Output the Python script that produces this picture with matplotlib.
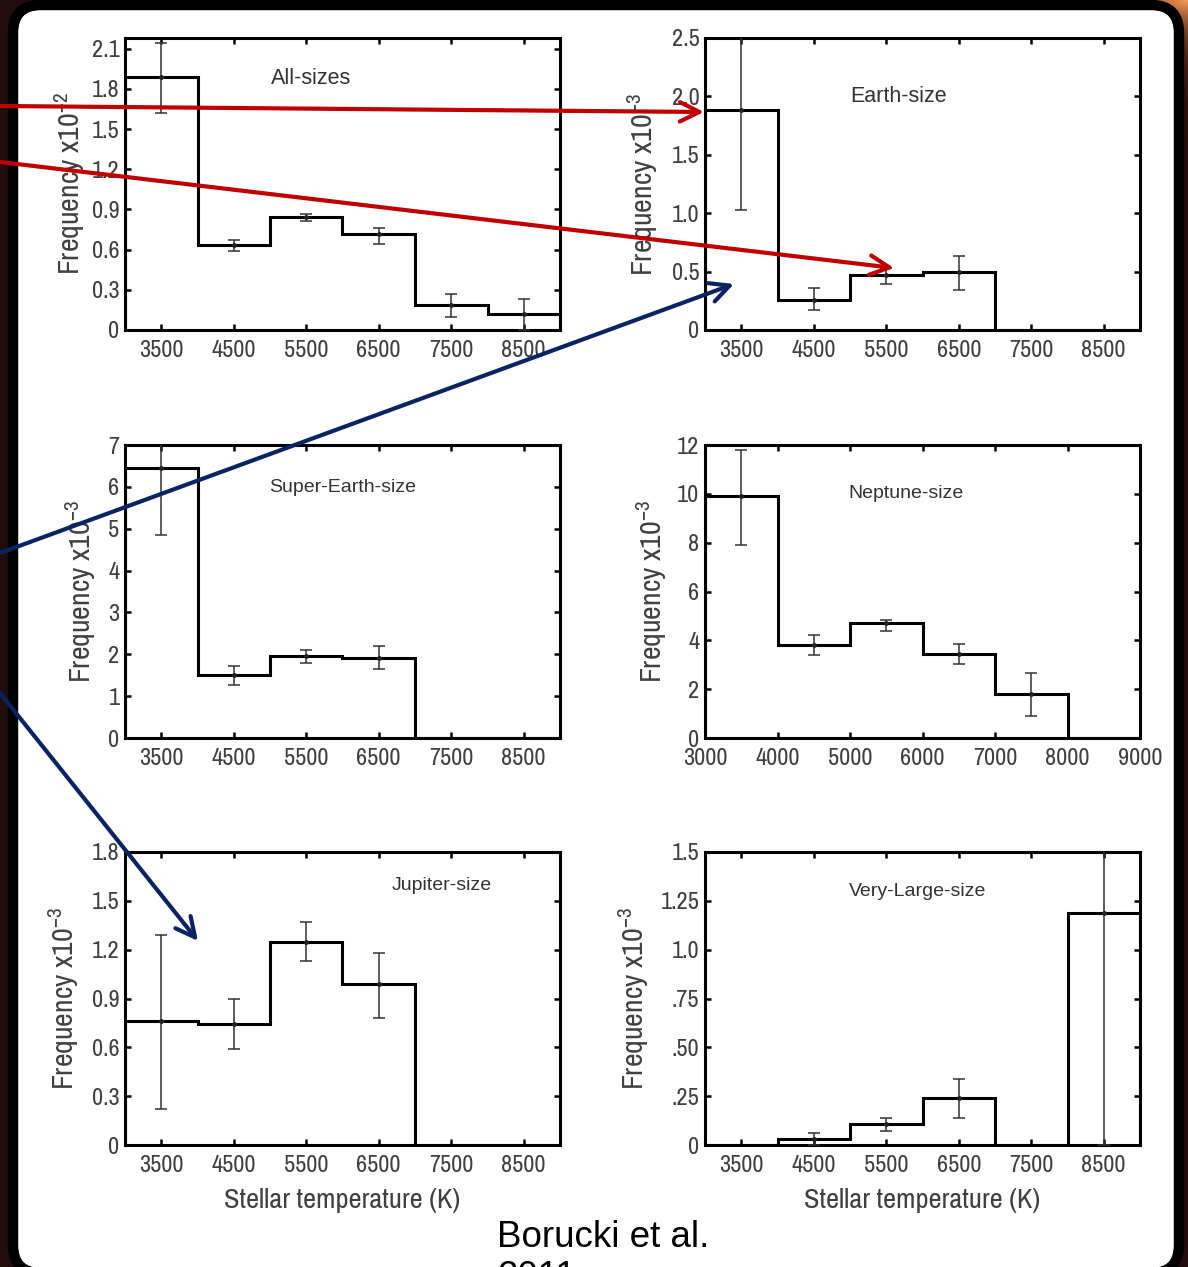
import numpy as np
import matplotlib.pyplot as plt
from matplotlib import font_manager
from matplotlib.patches import FancyBboxPatch

# pick a condensed sans for the axis text
avail = {f.name for f in font_manager.fontManager.ttflist}
narrow_opts = ['Liberation Sans Narrow', 'Arial Narrow', 'Archivo Narrow', 'PT Sans Narrow',
               'Roboto Condensed', 'Pragati Narrow', 'Open Sans Condensed', 'Liberation Sans']
narrow = next((n for n in narrow_opts if n in avail), 'DejaVu Sans')

plt.rcParams['font.family'] = [narrow, 'DejaVu Sans']
plt.rcParams['mathtext.fontset'] = 'custom'
plt.rcParams['mathtext.rm'] = narrow
plt.rcParams['mathtext.default'] = 'regular'

W, H = 1188, 1267
edges = np.arange(3000, 9001, 1000)
centers = edges[:-1] + 500

# frequency per 1000 K bin and error-bar bounds (nan = no bar)
nan = np.nan
all_freq = [1.89, 0.635, 0.84, 0.715, 0.19, 0.12]
all_lo = [1.62, 0.59, 0.815, 0.645, 0.10, 0.0]
all_hi = [2.14, 0.675, 0.865, 0.76, 0.27, 0.23]

earth_freq = [1.88, 0.26, 0.47, 0.50, 0, 0]
earth_lo = [1.03, 0.17, 0.39, 0.34, nan, nan]
earth_hi = [2.73, 0.36, 0.53, 0.63, nan, nan]

super_freq = [6.45, 1.50, 1.96, 1.92, 0, 0]
super_lo = [4.85, 1.26, 1.80, 1.64, nan, nan]
super_hi = [8.05, 1.72, 2.10, 2.20, nan, nan]

nep_freq = [9.9, 3.8, 4.7, 3.45, 1.8, 0]
nep_lo = [7.9, 3.4, 4.4, 3.05, 0.9, nan]
nep_hi = [11.8, 4.2, 4.85, 3.85, 2.65, nan]

jup_freq = [0.76, 0.745, 1.25, 0.99, 0, 0]
jup_lo = [0.22, 0.59, 1.13, 0.78, nan, nan]
jup_hi = [1.29, 0.90, 1.37, 1.18, nan, nan]

vl_freq = [0, 0.03, 0.105, 0.24, 0, 1.19]
vl_lo = [nan, 0.0, 0.07, 0.14, nan, 0.0]
vl_hi = [nan, 0.06, 0.14, 0.34, nan, 2.38]

std_xticks = [3500, 4500, 5500, 6500, 7500, 8500]
nep_xticks = [3000, 4000, 5000, 6000, 7000, 8000, 9000]

all_yticks = [0, 0.3, 0.6, 0.9, 1.2, 1.5, 1.8, 2.1]
all_ylabels = ['0', '0.3', '0.6', '0.9', '1.2', '1.5', '1.8', '2.1']
earth_yticks = [0, 0.5, 1.0, 1.5, 2.0, 2.5]
earth_ylabels = ['0', '0.5', '1.0', '1.5', '2.0', '2.5']
super_yticks = [0, 1, 2, 3, 4, 5, 6, 7]
nep_yticks = [0, 2, 4, 6, 8, 10, 12]
jup_yticks = [0, 0.3, 0.6, 0.9, 1.2, 1.5, 1.8]
jup_ylabels = ['0', '0.3', '0.6', '0.9', '1.2', '1.5', '1.8']
vl_yticks = [0, 0.25, 0.5, 0.75, 1.0, 1.25, 1.5]
vl_ylabels = ['0', '.25', '.50', '.75', '1.0', '1.25', '1.5']

# pixel boxes: left, top, right, bottom
panels = [
    dict(box=(125, 38, 560, 330), f=all_freq, lo=all_lo, hi=all_hi, ylim=2.18,
         yt=all_yticks, yl=all_ylabels, xt=std_xticks, name='All-sizes',
         npos=(311, 78), nsize=15.5, exp='-2', lx=-0.087, xlab=False),
    dict(box=(705, 38, 1140, 330), f=earth_freq, lo=earth_lo, hi=earth_hi, ylim=2.5,
         yt=earth_yticks, yl=earth_ylabels, xt=std_xticks, name='Earth-size',
         npos=(899, 96), nsize=15.5, exp='-3', lx=-0.103, xlab=False),
    dict(box=(125, 445, 560, 738), f=super_freq, lo=super_lo, hi=super_hi, ylim=7,
         yt=super_yticks, yl=[str(v) for v in super_yticks], xt=std_xticks,
         name='Super-Earth-size', npos=(343, 487), nsize=14, exp='-3', lx=-0.062, xlab=False),
    dict(box=(705, 445, 1140, 738), f=nep_freq, lo=nep_lo, hi=nep_hi, ylim=12,
         yt=nep_yticks, yl=[str(v) for v in nep_yticks], xt=nep_xticks,
         name='Neptune-size', npos=(906, 494), nsize=14, exp='-3', lx=-0.083, xlab=False),
    dict(box=(125, 852, 560, 1145), f=jup_freq, lo=jup_lo, hi=jup_hi, ylim=1.8,
         yt=jup_yticks, yl=jup_ylabels, xt=std_xticks, name='Jupiter-size',
         npos=(442, 886), nsize=14, exp='-3', lx=-0.101, xlab=True),
    dict(box=(705, 852, 1140, 1145), f=vl_freq, lo=vl_lo, hi=vl_hi, ylim=1.5,
         yt=vl_yticks, yl=vl_ylabels, xt=std_xticks, name='Very-Large-size',
         npos=(918, 892), nsize=14, exp='-3', lx=-0.124, xlab=True),
]

# annotation arrows (start, end, colour) in pixels
arrows = [
    ((0, 106), (704, 112), '#c00000'),
    ((0, 162), (894, 268), '#c00000'),
    ((0, 553), (734, 284), '#0a2463'),
    ((0, 693), (198, 941), '#0a2463'),
]

txt_gray = '#404040'
fig = plt.figure(figsize=(W / 100, H / 100), dpi=100)
fig.patch.set_facecolor('#230c0c')

# background: dark frame, orange glow top-right, white rounded card
bg = fig.add_axes([0, 0, 1, 1], zorder=-10)
bg.axis('off')
yy, xx = np.mgrid[0:160, 0:400]
d = np.hypot((xx - 400) * 0.6, yy * 1.4)
glow = np.exp(-d / 45.0)[..., None]
dark = np.array([0.14, 0.05, 0.05])
orange = np.array([0.98, 0.60, 0.34])
img = dark * (1 - glow) + orange * glow
bg.imshow(img, extent=(W - 400, W, 160, 0), aspect='auto', zorder=0)
card = FancyBboxPatch((13, 5), 1166, 1268, boxstyle='round,pad=0,rounding_size=28',
                      facecolor='white', edgecolor='black', linewidth=7.5, zorder=1)
bg.add_patch(card)
bg.set_xlim(0, W)
bg.set_ylim(H, 0)

for p in panels:
    l, t, r, b = p['box']
    ax = fig.add_axes([l / W, 1 - b / H, (r - l) / W, (b - t) / H])
    ax.set_facecolor('none')
    ax.stairs(p['f'], edges, baseline=0, color='black', lw=2.2, zorder=3)
    lo = np.array(p['lo'], dtype=float)
    hi = np.array(p['hi'], dtype=float)
    f = np.array(p['f'], dtype=float)
    m = ~np.isnan(lo)
    ax.errorbar(centers[m], f[m], yerr=[f[m] - lo[m], hi[m] - f[m]], fmt='o', ms=2.5,
                color='#222222', ecolor='#333333', elinewidth=1.1, capsize=4, capthick=1.1,
                zorder=4)
    ax.set_xlim(3000, 9000)
    ax.set_ylim(0, p['ylim'])
    ax.set_xticks(p['xt'])
    ax.set_yticks(p['yt'])
    ax.set_yticklabels(p['yl'])
    ax.tick_params(direction='in', length=4, width=1.8, top=True, right=True,
                   labelsize=17.5, labelcolor=txt_gray)
    ax.tick_params(axis='x', pad=7)
    ax.tick_params(axis='y', pad=4)
    for s in ax.spines.values():
        s.set_linewidth(2.2)
    ax.set_ylabel('Frequency x10$^{' + p['exp'] + '}$', fontsize=21.5, color=txt_gray)
    ax.yaxis.set_label_coords(p['lx'], 0.5)
    if p['xlab']:
        ax.set_xlabel('Stellar temperature (K)', fontsize=20.5, color=txt_gray, labelpad=9)
    nx, ny = p['npos']
    ax.text((nx - l) / (r - l), (b - ny) / (b - t), p['name'], transform=ax.transAxes,
            ha='center', va='center', fontsize=p['nsize'], color='#333333',
            family=['Liberation Sans', 'DejaVu Sans'])

ov = fig.add_axes([0, 0, 1, 1], zorder=10)
ov.set_xlim(0, W)
ov.set_ylim(H, 0)
ov.axis('off')
for start, end, c in arrows:
    ov.annotate('', xy=end, xytext=start,
                arrowprops=dict(arrowstyle='->,head_length=0.7,head_width=0.35',
                                color=c, lw=3, shrinkA=0, shrinkB=0, mutation_scale=20))

ov.text(497, 1220, 'Borucki et al.\n2011', ha='left', va='top', fontsize=26.5,
        color='black', linespacing=1.2, family=['Liberation Sans', 'DejaVu Sans'])

fig.savefig('out.png', dpi=100, facecolor=fig.get_facecolor())
